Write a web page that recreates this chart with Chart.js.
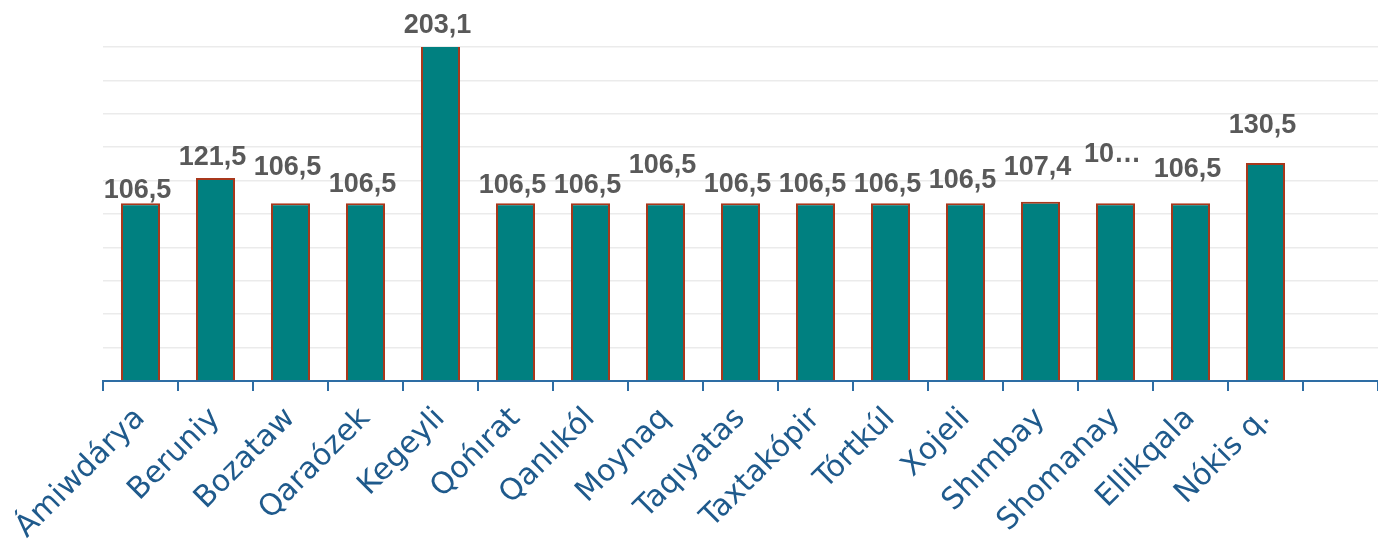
<!DOCTYPE html>
<html>
<head>
<meta charset="utf-8">
<script src="https://cdn.jsdelivr.net/npm/chart.js@4/dist/chart.umd.min.js"></script>
<style>
    html, body { margin: 0; padding: 0; background: #ffffff; }
    #wrap { width: 1378px; height: 545px; position: relative; }
</style>
</head>
<body>
<div id="wrap"><canvas id="districts"></canvas></div>
<script>
// districts; last slot is empty in the original axis
const districts = ['Ámiwdárya', 'Beruniy', 'Bozataw', 'Qaraózek', 'Kegeyli', 'Qońırat', 'Qanlıkól', 'Moynaq',
    'Taqıyatas', 'Taxtakópir', 'Tórtkúl', 'Xojeli', 'Shımbay', 'Shomanay', 'Ellikqala', 'Nókis q.', ''];
const values = [106.5, 121.5, 106.5, 106.5, 203.1, 106.5, 106.5, 106.5,
    106.5, 106.5, 106.5, 106.5, 107.4, 106.5, 106.5, 130.5, null];
const yTicks = [0, 20, 40, 60, 80, 100, 120, 140, 160, 180, 200];

// label text as shown (the Shomanay label is cut off in the source)
const valueText = values.map(v => v === null ? '' : v.toFixed(1).replace('.', ','));
valueText[13] = '10…';
// gap between bar top and label baseline (px)
const labelLift = [5, 13, 28, 11, 14, 10, 10, 30, 11, 11, 11, 15, 27, 41, 26, 30, 0];

const valueLabels = {
    id: 'valueLabels',
    afterDatasetsDraw(chart) {
        const ctx = chart.ctx;
        const meta = chart.getDatasetMeta(0);
        const top = chart.chartArea.top;
        ctx.save();
        ctx.font = 'bold 27px "Liberation Sans", Arial, sans-serif';
        ctx.fillStyle = '#595959';
        ctx.textAlign = 'center';
        ctx.textBaseline = 'alphabetic';
        meta.data.forEach((bar, i) => {
            if (!valueText[i]) return;
            const y = Math.max(bar.y, top);
            ctx.fillText(valueText[i], bar.x - 3, y - labelLift[i]);
        });
        ctx.restore();
    }
};

new Chart(document.getElementById('districts'), {
    type: 'bar',
    data: {
        labels: districts,
        datasets: [{
            data: values,
            backgroundColor: '#008080',
            borderColor: '#a8381c',
            borderWidth: 2,
            categoryPercentage: 1,
            barPercentage: 0.52
        }]
    },
    options: {
        responsive: true,
        maintainAspectRatio: false,
        animation: false,
        layout: { padding: { left: 103, top: 47, right: 0, bottom: 0 } },
        plugins: {
            legend: { display: false },
            tooltip: { enabled: false }
        },
        scales: {
            x: {
                offset: true,
                grid: {
                    display: true,
                    offset: true,
                    drawOnChartArea: false,
                    drawTicks: true,
                    tickLength: 10,
                    color: '#2e6da4',
                    lineWidth: 2
                },
                border: { display: true, color: '#2e6da4', width: 2 },
                ticks: {
                    autoSkip: false,
                    minRotation: 45,
                    maxRotation: 45,
                    padding: 10,
                    color: '#1f5a8c',
                    font: { family: '"DejaVu Sans", sans-serif', size: 30 }
                },
                afterFit: scale => { scale.height = 164; }
            },
            y: {
                min: 0,
                max: 200,
                afterBuildTicks: scale => { scale.ticks = yTicks.map(v => ({ value: v })); },
                ticks: { display: false },
                grid: { color: '#ebebeb', lineWidth: 1.5, drawTicks: false },
                border: { display: false },
                afterFit: scale => { scale.width = 0; }
            }
        }
    },
    plugins: [valueLabels]
});
</script>
</body>
</html>
